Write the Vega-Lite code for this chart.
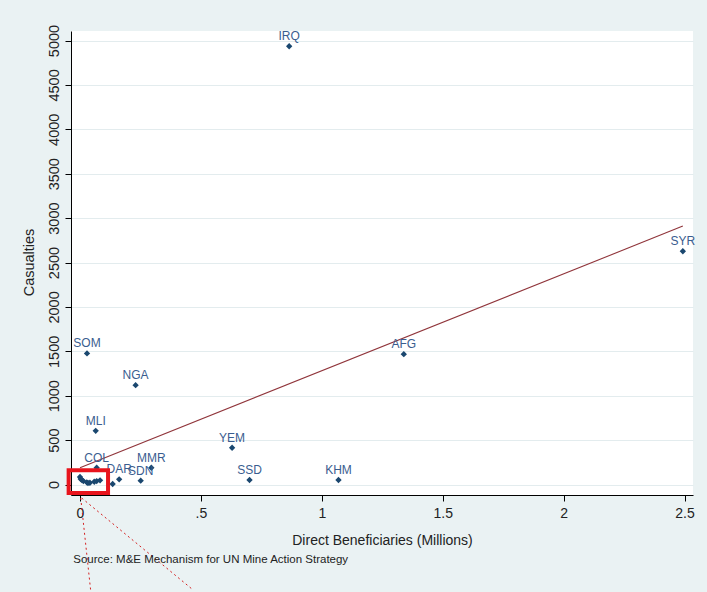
{
  "$schema": "https://vega.github.io/schema/vega-lite/v6.json",
  "autosize": "none",
  "width": 622,
  "height": 464,
  "padding": {"left": 71, "top": 31, "right": 14, "bottom": 97},
  "background": "#eaf2f3",
  "config": {
    "font": "Liberation Sans",
    "view": {"fill": "white", "stroke": null}
  },
  "datasets": {
    "pts": [
      {"country": "IRQ", "ben": 0.865, "cas": 4935},
      {"country": "SYR", "ben": 2.493, "cas": 2627},
      {"country": "AFG", "ben": 1.339, "cas": 1468},
      {"country": "SOM", "ben": 0.029, "cas": 1476},
      {"country": "NGA", "ben": 0.230, "cas": 1119},
      {"country": "MLI", "ben": 0.065, "cas": 605},
      {"country": "COL", "ben": 0.069, "cas": 189},
      {"country": "MMR", "ben": 0.295, "cas": 189},
      {"country": "SDN", "ben": 0.251, "cas": 43},
      {"country": "DAR", "ben": 0.162, "cas": 58},
      {"country": "YEM", "ben": 0.629, "cas": 414},
      {"country": "SSD", "ben": 0.701, "cas": 51},
      {"country": "KHM", "ben": 1.069, "cas": 51},
      {"country": "", "ben": 0.135, "cas": 6},
      {"country": "", "ben": 0.000, "cas": 85},
      {"country": "", "ben": 0.003, "cas": 62},
      {"country": "", "ben": 0.008, "cas": 50},
      {"country": "", "ben": 0.014, "cas": 39},
      {"country": "", "ben": 0.028, "cas": 25},
      {"country": "", "ben": 0.033, "cas": 17},
      {"country": "", "ben": 0.041, "cas": 20},
      {"country": "", "ben": 0.059, "cas": 31},
      {"country": "", "ben": 0.069, "cas": 39},
      {"country": "", "ben": 0.083, "cas": 47}
    ],
    "fit": [
      {"ben": 0.0, "cas": 190},
      {"ben": 2.493, "cas": 2910}
    ],
    "box": [
      {"x1": -0.047, "x2": 0.116, "y1": 160, "y2": -96}
    ],
    "dots": [
      {"x1": 0.003, "y1": -152, "x2": 0.044, "y2": -1190},
      {"x1": 0.007, "y1": -152, "x2": 0.469, "y2": -1190}
    ],
    "note": [
      {"text": "Source: M&E Mechanism for UN Mine Action Strategy", "ben": -0.0277, "cas": -883}
    ]
  },
  "layer": [
    {
      "data": {"name": "fit"},
      "mark": {"type": "line", "color": "#90353b", "strokeWidth": 1.1},
      "encoding": {
        "x": {
          "field": "ben", "type": "quantitative",
          "scale": {"domain": [-0.0372, 2.535], "nice": false, "zero": false},
          "axis": {
            "title": "Direct Beneficiaries (Millions)",
            "values": [0, 0.5, 1, 1.5, 2, 2.5],
            "labelExpr": "datum.value == 0.5 ? '.5' : toString(datum.value)",
            "grid": false,
            "domainColor": "#000000",
            "domainWidth": 1,
            "tickColor": "#000000",
            "tickSize": 6,
            "labelFontSize": 14,
            "labelColor": "#222222",
            "labelPadding": 5,
            "labelFont": "Liberation Sans",
            "titleFont": "Liberation Sans",
            "titleFontSize": 14,
            "titleFontWeight": "normal",
            "titleColor": "#222222",
            "titleY": 49,
            "titleBaseline": "alphabetic"
          }
        },
        "y": {
          "field": "cas", "type": "quantitative",
          "scale": {"domain": [-118, 5107], "nice": false, "zero": false},
          "axis": {
            "title": "Casualties",
            "values": [0, 500, 1000, 1500, 2000, 2500, 3000, 3500, 4000, 4500, 5000],
            "format": "d",
            "grid": true,
            "gridColor": "#e3ecee",
            "gridWidth": 1,
            "domainColor": "#000000",
            "domainWidth": 1,
            "tickColor": "#000000",
            "tickSize": 6,
            "labelAngle": 270,
            "labelAlign": "center",
            "labelBaseline": "alphabetic",
            "labelPadding": 7,
            "labelFontSize": 14.5,
            "labelColor": "#222222",
            "labelFont": "Liberation Sans",
            "titleFont": "Liberation Sans",
            "titleFontSize": 14.5,
            "titleFontWeight": "normal",
            "titleColor": "#222222",
            "titleAngle": 270,
            "titleAlign": "center",
            "titleBaseline": "alphabetic",
            "titleX": -38,
            "titleY": 231
          }
        }
      }
    },
    {
      "data": {"name": "pts"},
      "mark": {"type": "point", "shape": "diamond", "filled": true, "color": "#1a476f", "size": 40, "opacity": 1},
      "encoding": {
        "x": {"field": "ben", "type": "quantitative"},
        "y": {"field": "cas", "type": "quantitative"}
      }
    },
    {
      "data": {"name": "pts"},
      "mark": {"type": "text", "color": "#3a5d8f", "fontSize": 12, "baseline": "bottom", "dy": -3, "font": "Liberation Sans"},
      "encoding": {
        "x": {"field": "ben", "type": "quantitative"},
        "y": {"field": "cas", "type": "quantitative"},
        "text": {"field": "country"}
      }
    },
    {
      "data": {"name": "box"},
      "mark": {"type": "rect", "filled": false, "stroke": "#e8141c", "strokeWidth": 4},
      "encoding": {
        "x": {"field": "x1", "type": "quantitative"},
        "x2": {"field": "x2"},
        "y": {"field": "y1", "type": "quantitative"},
        "y2": {"field": "y2"}
      }
    },
    {
      "data": {"name": "dots"},
      "mark": {"type": "rule", "color": "#d42020", "strokeWidth": 1, "strokeDash": [2, 3]},
      "encoding": {
        "x": {"field": "x1", "type": "quantitative"},
        "x2": {"field": "x2"},
        "y": {"field": "y1", "type": "quantitative"},
        "y2": {"field": "y2"}
      }
    },
    {
      "data": {"name": "note"},
      "mark": {"type": "text", "align": "left", "baseline": "alphabetic", "fontSize": 11.5, "color": "#222222", "font": "Liberation Sans"},
      "encoding": {
        "x": {"field": "ben", "type": "quantitative"},
        "y": {"field": "cas", "type": "quantitative"},
        "text": {"field": "text"}
      }
    }
  ]
}
